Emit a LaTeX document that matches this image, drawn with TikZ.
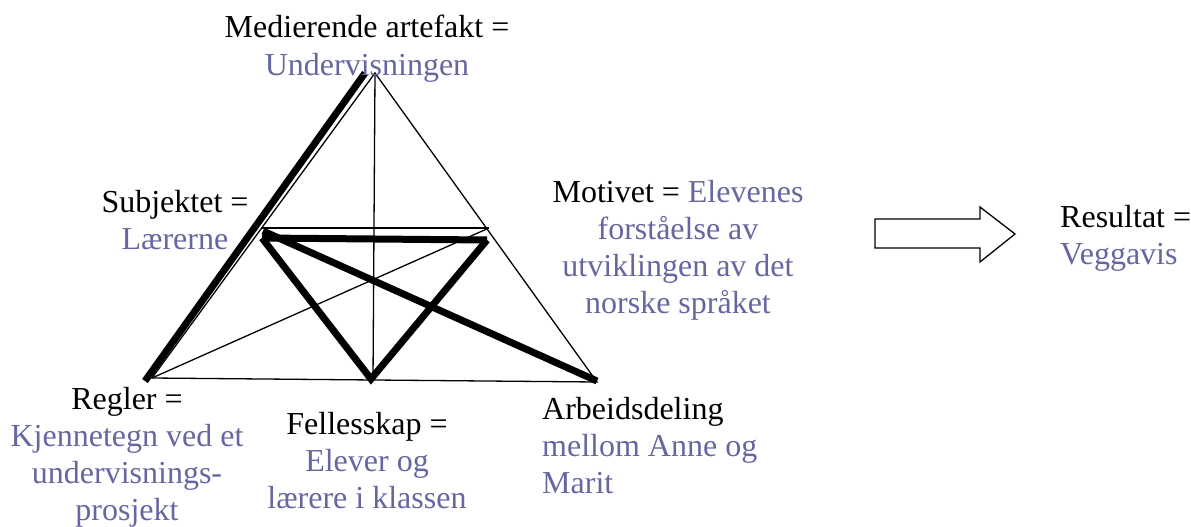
\documentclass[tikz,border=0pt]{standalone}
\usepackage{fontspec}
\setmainfont{Liberation Serif}
\definecolor{valuecol}{RGB}{102,102,160}

\begin{document}
\begin{tikzpicture}[
  x=1pt,
  y=-1pt,
  thinedge/.style={draw=black, line width=1.3pt},
  thickedge/.style={draw=black, line width=7pt},
  blockarrow/.style={draw=black, line width=1.3pt, fill=white},
  term/.style={font=\fontsize{32}{37}\selectfont, inner sep=0pt, align=center, anchor=base},
  leftterm/.style={term, align=left, anchor=base west}
]
\useasboundingbox (0,0) rectangle (1191,527);

% ---------------------------------------------------------------------------
% Corners and side midpoints of the triangle
% ---------------------------------------------------------------------------
\coordinate (artefact) at (375,73);
\coordinate (rules) at (152,378);
\coordinate (labour) at (597,382);
\coordinate (subject) at (262,228);
\coordinate (motive) at (489,228);
\coordinate (community) at (373,380);

% offset ends of the heavy strokes
\coordinate (artefactH) at (365,73);
\coordinate (rulesH) at (145,381);
\coordinate (subjectH) at (262,238);
\coordinate (motiveH) at (487,240);
\coordinate (communityH) at (371,379);
\coordinate (labourH) at (597,381);
\coordinate (subjectD) at (263,231);

% thin structure
\draw[thinedge] (artefact) -- (rules) -- (labour) -- cycle;
\draw[thinedge] (artefact) -- (community);
\draw[thinedge] (subject) -- (motive);
\draw[thinedge] (rules) -- (motive);

% heavy strokes
\draw[thickedge] (artefactH) -- (rulesH);
\draw[thickedge] (subjectH) -- (motiveH);
\draw[thickedge] (subjectH) -- (communityH) -- (motiveH);
\draw[thickedge] (subjectD) -- (labourH);

% ---------------------------------------------------------------------------
% Labels (placed at the baseline of their last line)
% ---------------------------------------------------------------------------
\node[term] (artefactlbl) at (367,75) {Medierende artefakt =\\\textcolor{valuecol}{Undervisningen}};
\node[term] (subjectlbl) at (175,249) {Subjektet =\\\textcolor{valuecol}{Lærerne}};
\node[term, text=valuecol] (motivelbl) at (678,313) {\textcolor{black}{Motivet =} Elevenes\\forståelse av\\utviklingen av det\\norske språket};
\node[term] (ruleslbl) at (127,520) {Regler =\\\textcolor{valuecol}{Kjennetegn ved et}\\\textcolor{valuecol}{undervisnings-}\\\textcolor{valuecol}{prosjekt}};
\node[term] (communitylbl) at (367,508) {Fellesskap =\\\textcolor{valuecol}{Elever og}\\\textcolor{valuecol}{lærere i klassen}};
\node[leftterm] (labourlbl) at (542,493) {Arbeidsdeling\\\textcolor{valuecol}{mellom Anne og}\\\textcolor{valuecol}{Marit}};
\node[leftterm] (resultlbl) at (1060,264) {Resultat =\\\textcolor{valuecol}{Veggavis}};

% block arrow towards the result
\draw[blockarrow] (875,219) -- (980,219) -- (980,207) -- (1015,234)
  -- (980,262) -- (980,248) -- (875,248) -- cycle;

\end{tikzpicture}
\end{document}
